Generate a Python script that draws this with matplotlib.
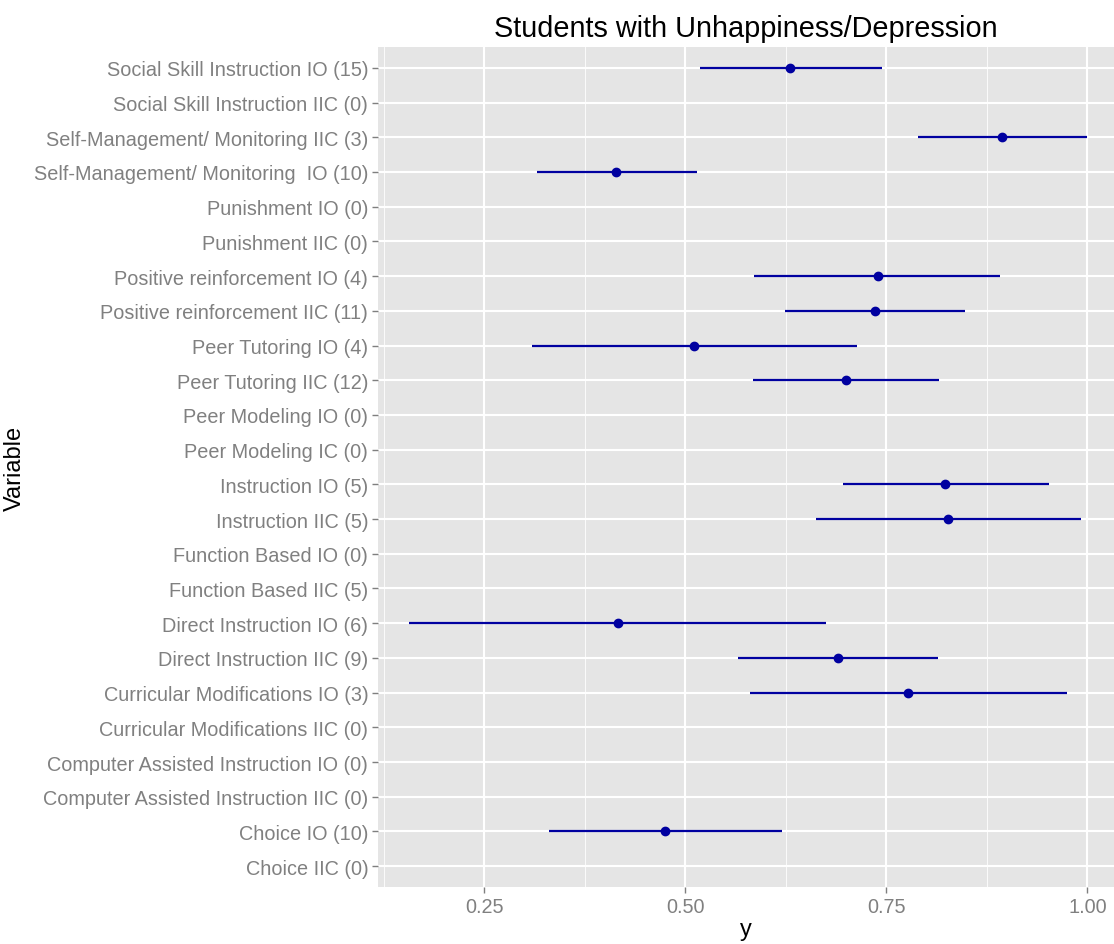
import numpy as np
import matplotlib.pyplot as plt

plt.rcParams['font.family'] = ['Liberation Sans', 'DejaVu Sans']

# categories listed top to bottom
labels = [
    'Social Skill Instruction IO (15)',
    'Social Skill Instruction IIC (0)',
    'Self-Management/ Monitoring IIC (3)',
    'Self-Management/ Monitoring  IO (10)',
    'Punishment IO (0)',
    'Punishment IIC (0)',
    'Positive reinforcement IO (4)',
    'Positive reinforcement IIC (11)',
    'Peer Tutoring IO (4)',
    'Peer Tutoring IIC (12)',
    'Peer Modeling IO (0)',
    'Peer Modeling IC (0)',
    'Instruction IO (5)',
    'Instruction IIC (5)',
    'Function Based IO (0)',
    'Function Based IIC (5)',
    'Direct Instruction IO (6)',
    'Direct Instruction IIC (9)',
    'Curricular Modifications IO (3)',
    'Curricular Modifications IIC (0)',
    'Computer Assisted Instruction IO (0)',
    'Computer Assisted Instruction IIC (0)',
    'Choice IO (10)',
    'Choice IIC (0)',
]
nan = np.nan
est = [0.630, nan, 0.894, 0.414, nan, nan, 0.739, 0.736, 0.511, 0.700, nan, nan,
       0.823, 0.827, nan, nan, 0.416, 0.690, 0.777, nan, nan, nan, 0.475, nan]
lo = [0.518, nan, 0.789, 0.316, nan, nan, 0.586, 0.624, 0.309, 0.584, nan, nan,
      0.696, 0.663, nan, nan, 0.157, 0.566, 0.581, nan, nan, nan, 0.330, nan]
hi = [0.744, nan, 1.000, 0.514, nan, nan, 0.891, 0.848, 0.714, 0.815, nan, nan,
      0.952, 0.992, nan, nan, 0.675, 0.814, 0.974, nan, nan, nan, 0.620, nan]

xticks = [0.25, 0.50, 0.75, 1.00]
xtick_labels = ['0.25', '0.50', '0.75', '1.00']
minor_ticks = [0.125, 0.375, 0.625, 0.875]

fig = plt.figure(figsize=(11.14, 9.45), dpi=100)
ax = fig.add_axes([378/1114, 1 - 888/945, 736/1114, 840/945])
ax.set_facecolor('#E5E5E5')

ypos = np.arange(len(labels))[::-1]
ax.hlines(ypos, lo, hi, color='#0000A0', lw=1.6, zorder=3)
ax.plot(est, ypos, 'o', color='#0000A0', ms=6, zorder=4)

ax.set_yticks(ypos)
ax.set_yticklabels(labels)
ax.set_ylim(-0.6, len(labels) - 0.4)
ax.set_xlim(0.118, 1.033)
ax.set_xticks(xticks)
ax.set_xticklabels(xtick_labels)
ax.set_xticks(minor_ticks, minor=True)

ax.grid(which='major', color='white', lw=1.5, zorder=0)
ax.grid(which='minor', axis='x', color='white', lw=0.6, zorder=0)
ax.set_axisbelow(True)
for s in ax.spines.values():
    s.set_visible(False)
ax.tick_params(which='major', colors='#7F7F7F', labelcolor='#808080',
               labelsize=14.3, length=4, width=1, pad=3)
ax.tick_params(which='minor', length=0)

ax.set_xlabel('y', fontsize=17, labelpad=2)
ax.set_ylabel('Variable', fontsize=17, labelpad=6)
ax.set_title('Students with Unhappiness/Depression', fontsize=20.8, pad=8)

fig.savefig('out.png', dpi=100)
